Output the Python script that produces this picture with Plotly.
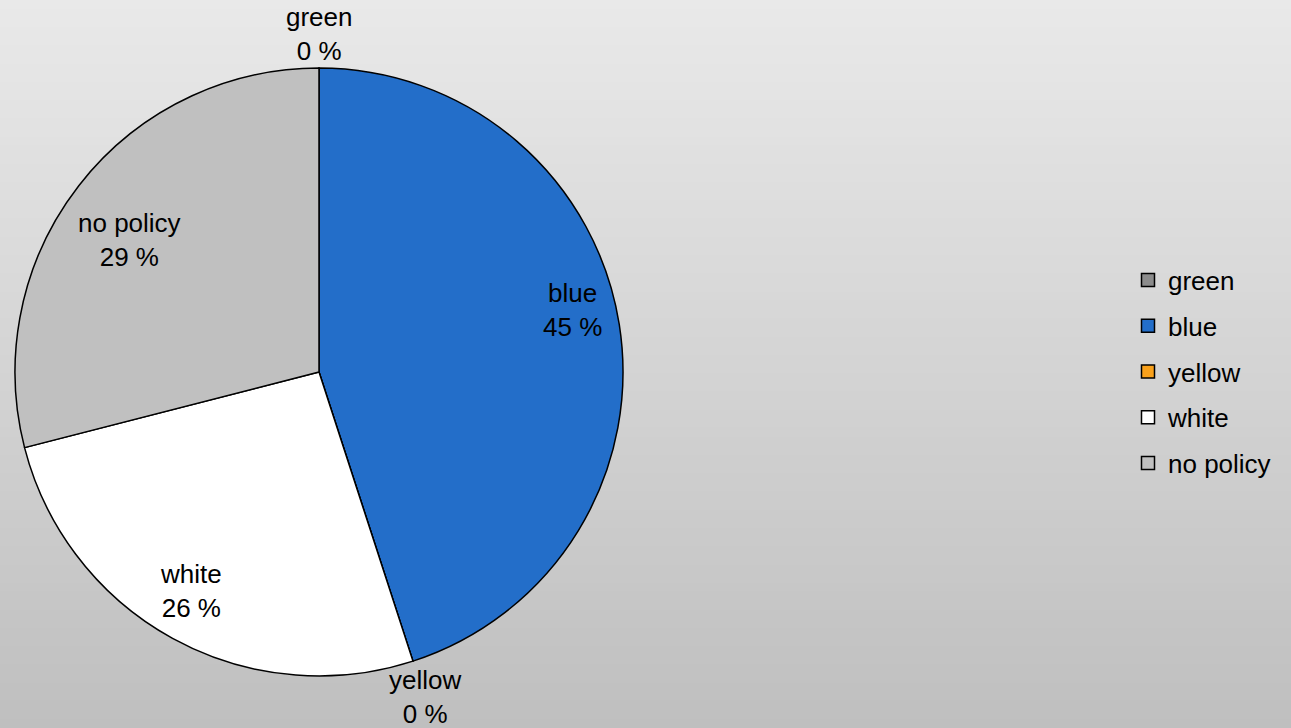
import math
import plotly.graph_objects as go

# ---- data ----
categories = ["green", "blue", "yellow", "white", "no policy"]
shares = [0, 45, 0, 26, 29]
colors = ["#8C8C8C", "#236EC9", "#F9A11B", "#FFFFFF", "#C0C0C0"]

# label placement style (radius factor, angular nudge in degrees)
label_radius = [1.112, 0.857, 1.125, 0.834, 0.761]
label_nudge = [0, -4.8, 0, 1.5, -3.0]

W, H = 1291, 728
FONT = "Liberation Sans, Arial, sans-serif"
FS = 26

# pie geometry (pixels)
cx, cy, R = 319, 372, 304
dom_x = [(cx - R) / W, (cx + R) / W]
dom_y = [1 - (cy + R) / H, 1 - (cy - R) / H]

fig = go.Figure()

# gradient background
n = 80
top = (233, 233, 233)
bot = (191, 191, 191)
shapes = []
for i in range(n):
    t = i / (n - 1)
    c = tuple(round(top[k] + (bot[k] - top[k]) * t) for k in range(3))
    shapes.append(dict(type="rect", xref="paper", yref="paper",
                       x0=0, x1=1, y0=max(0, 1 - (i + 1) / n - 0.002), y1=1 - i / n,
                       fillcolor="rgb(%d,%d,%d)" % c, line=dict(width=0),
                       layer="below"))

fig.add_trace(go.Pie(
    labels=categories, values=shares, sort=False, direction="clockwise",
    marker=dict(colors=colors, line=dict(color="black", width=1.5)),
    textinfo="none",
    domain=dict(x=dom_x, y=dom_y),
    showlegend=False, hoverinfo="label+percent",
))

# data labels placed along each slice's mid-angle
total = sum(shares)
annotations = []
cum = 0.0
for name, v, rf, nd in zip(categories, shares, label_radius, label_nudge):
    mid = (cum + v / 2) / total * 360.0 + nd
    cum += v
    a = math.radians(mid)
    px = cx + rf * R * math.sin(a)
    py = cy - rf * R * math.cos(a)
    pct = round(v / total * 100)
    annotations.append(dict(
        x=px / W, y=1 - py / H, xref="paper", yref="paper",
        text="%s<br>%d %%" % (name, pct), showarrow=False,
        xanchor="center", yanchor="middle", align="center",
        font=dict(family=FONT, size=FS, color="black"),
    ))

# legend entries
for name, col in zip(categories, colors):
    fig.add_trace(go.Scatter(
        x=[None], y=[None], mode="markers", name=name, legendgroup=name,
        marker=dict(symbol="square", size=13, color=col,
                    line=dict(color="black", width=1.5)),
        showlegend=True,
    ))

fig.update_layout(
    width=W, height=H,
    margin=dict(l=0, r=0, t=0, b=0),
    paper_bgcolor="rgba(0,0,0,0)", plot_bgcolor="rgba(0,0,0,0)",
    shapes=shapes, annotations=annotations,
    xaxis=dict(visible=False), yaxis=dict(visible=False),
    showlegend=True,
    legend=dict(x=1128 / W, xanchor="left", y=0.489, yanchor="middle",
                font=dict(family=FONT, size=FS, color="black"),
                bgcolor="rgba(0,0,0,0)", tracegroupgap=9,
                itemsizing="trace"),
    font=dict(family=FONT),
)

fig.write_html("out.html", config={"displayModeBar": False},
               post_script="document.body.style.margin='0px';")
